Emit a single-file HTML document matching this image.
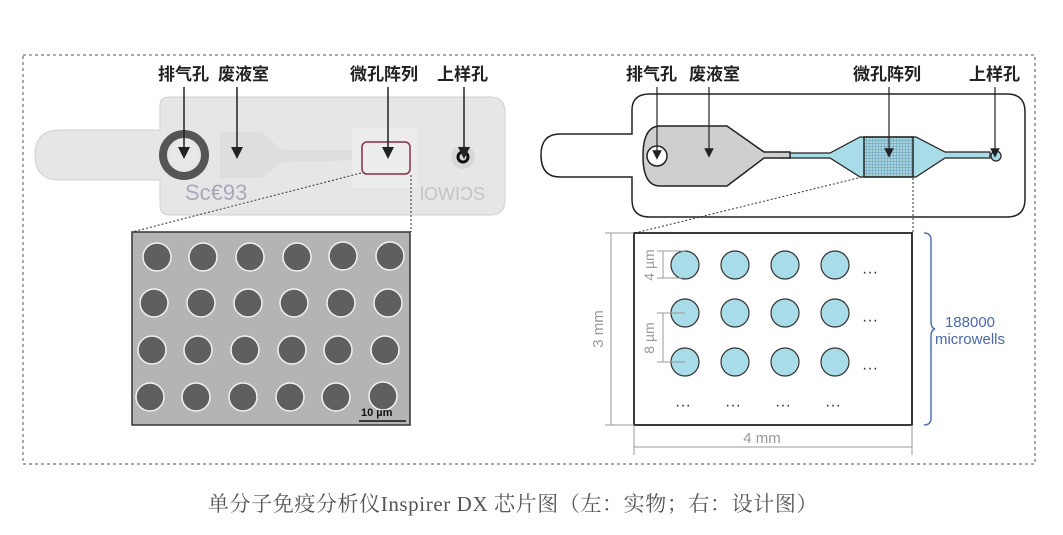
<!DOCTYPE html>
<html><head><meta charset="utf-8"><style>
html,body{margin:0;padding:0;background:#fff;width:1063px;height:535px;overflow:hidden}
svg{display:block}
.lb{font-family:"Liberation Sans","Noto Sans CJK SC",sans-serif;font-weight:bold;font-size:17px;fill:#222}
.cap{font-family:"Liberation Serif","Noto Serif CJK SC",serif;font-size:21px;fill:#555;letter-spacing:0.6px}
</style></head><body>
<svg width="1063" height="535" viewBox="0 0 1063 535">
<defs>
<marker id="ar" markerWidth="8" markerHeight="8" refX="4" refY="4" orient="auto"><path d="M0,0 L8,4 L0,8z" fill="#222"/></marker>
<pattern id="grid" width="3" height="3" patternUnits="userSpaceOnUse"><rect width="3" height="3" fill="#7fb5c6"/><rect width="2" height="2" fill="#a9d3df"/></pattern>
</defs>
<rect x="23" y="55" width="1012" height="409" fill="none" stroke="#aaa" stroke-width="2" stroke-dasharray="3,3"/>

<!-- LEFT photo chip -->
<path d="M60,130 H160 V105 Q160,97 170,97 H490 Q505,97 505,112 V200 Q505,215 490,215 H170 Q160,215 160,205 V180 H60 Q35,180 35,155 Q35,130 60,130Z" fill="#e6e6e6" stroke="#d0d0d0"/>
<path d="M220,132 H262 L282,150 H360 V146 H410 V160 H360 L282,162 L262,178 H220Z" fill="#dedede"/>
<rect x="352" y="128" width="65" height="60" fill="#ececec"/>
<circle cx="184" cy="155" r="21" fill="none" stroke="#555" stroke-width="8"/>
<circle cx="184" cy="155" r="14" fill="#e8e8e8"/>
<rect x="362" y="142" width="48" height="32" rx="5" fill="#ededed" stroke="#8a3040" stroke-width="1.5"/>
<circle cx="463" cy="157" r="12" fill="#d8d8d8"/>
<circle cx="463" cy="157" r="5" fill="none" stroke="#111" stroke-width="3"/>
<text x="185" y="200" font-family="Liberation Sans" font-size="22" fill="#8080a0" opacity="0.6">Sc€93</text>
<text x="420" y="200" font-family="Liberation Sans" font-size="18" fill="#c4c4c4">ƖOWIϽS</text>
<g class="lb"><text x="158" y="80">排气孔</text><text x="218" y="80">废液室</text><text x="350" y="80">微孔阵列</text><text x="437" y="80">上样孔</text></g>
<g stroke="#222" stroke-width="1.5" marker-end="url(#ar)">
<line x1="184" y1="87" x2="184" y2="153"/><line x1="237" y1="87" x2="237" y2="153"/><line x1="388" y1="87" x2="388" y2="153"/><line x1="464" y1="87" x2="464" y2="153"/></g>
<g stroke="#333" stroke-width="1" stroke-dasharray="2,2" fill="none"><line x1="361" y1="173" x2="132" y2="232"/><line x1="411" y1="175" x2="411" y2="232"/></g>
<rect x="132" y="232" width="278" height="193" fill="#b4b4b4" stroke="#333" stroke-width="1.5"/>
<g fill="#5f5f5f" stroke="#f2f2f2" stroke-width="1.5">
<circle cx="157" cy="257" r="14"/><circle cx="203" cy="257" r="14"/><circle cx="250" cy="257" r="14"/><circle cx="297" cy="257" r="14"/><circle cx="343" cy="256" r="14"/><circle cx="390" cy="256" r="14"/>
<circle cx="154" cy="303" r="14"/><circle cx="201" cy="303" r="14"/><circle cx="248" cy="303" r="14"/><circle cx="294" cy="303" r="14"/><circle cx="341" cy="303" r="14"/><circle cx="388" cy="303" r="14"/>
<circle cx="152" cy="350" r="14"/><circle cx="198" cy="350" r="14"/><circle cx="245" cy="350" r="14"/><circle cx="292" cy="350" r="14"/><circle cx="338" cy="350" r="14"/><circle cx="385" cy="350" r="14"/>
<circle cx="150" cy="397" r="14"/><circle cx="196" cy="397" r="14"/><circle cx="243" cy="397" r="14"/><circle cx="290" cy="397" r="14"/><circle cx="336" cy="397" r="14"/><circle cx="383" cy="396" r="14"/></g>
<text x="361" y="416" font-family="Liberation Sans" font-weight="bold" font-size="11" fill="#111">10 µm</text>
<line x1="359" y1="421" x2="406" y2="421" stroke="#111" stroke-width="1.5"/>

<!-- RIGHT schematic -->
<path d="M560,134 H632 V110 Q632,94 650,94 H1007 Q1025,94 1025,112 V199 Q1025,217 1007,217 H650 Q632,217 632,200 V177 H560 Q541,177 541,155 Q541,134 560,134Z" fill="#fff" stroke="#222" stroke-width="1.5"/>
<path d="M780,153 H830 L860,137 H916 L945,152 H990 V158 H945 L916,177 H860 L830,158 H780Z" fill="#a8dce8" stroke="#222" stroke-width="1.2"/>
<path d="M660,126 H727 L764,152 H790 V158 H764 L727,186 H660 Q643,186 643,156 Q643,126 660,126Z" fill="#cfcfcf" stroke="#222" stroke-width="1.5"/>
<rect x="864" y="137" width="49" height="40" fill="url(#grid)" stroke="#222" stroke-width="1.5"/>
<circle cx="657" cy="156" r="10" fill="#fff" stroke="#222" stroke-width="1.5"/>
<circle cx="996" cy="156" r="5" fill="#a8dce8" stroke="#222" stroke-width="1.2"/>
<g class="lb"><text x="626" y="80">排气孔</text><text x="689" y="80">废液室</text><text x="853" y="80">微孔阵列</text><text x="969" y="80">上样孔</text></g>
<g stroke="#222" stroke-width="1.2" marker-end="url(#ar)">
<line x1="657" y1="87" x2="657" y2="155"/><line x1="709" y1="87" x2="709" y2="153"/><line x1="889" y1="87" x2="889" y2="153"/><line x1="995" y1="87" x2="995" y2="153"/></g>
<g stroke="#333" stroke-width="1" stroke-dasharray="2,2" fill="none"><line x1="862" y1="177" x2="635" y2="233"/><line x1="913" y1="178" x2="913" y2="233"/></g>
<rect x="634" y="233" width="278" height="192" fill="#fff" stroke="#222" stroke-width="1.8"/>
<g fill="#a8dce8" stroke="#333" stroke-width="1.2">
<circle cx="685" cy="265" r="14"/><circle cx="735" cy="265" r="14"/><circle cx="785" cy="265" r="14"/><circle cx="835" cy="265" r="14"/>
<circle cx="685" cy="313" r="14"/><circle cx="735" cy="313" r="14"/><circle cx="785" cy="313" r="14"/><circle cx="835" cy="313" r="14"/>
<circle cx="685" cy="362" r="14"/><circle cx="735" cy="362" r="14"/><circle cx="785" cy="362" r="14"/><circle cx="835" cy="362" r="14"/></g>
<g font-family="Liberation Sans" font-size="16" fill="#333">
<text x="862" y="277">···</text><text x="862" y="325">···</text><text x="862" y="373">···</text>
<text x="675" y="410">···</text><text x="725" y="410">···</text><text x="775" y="410">···</text><text x="825" y="410">···</text></g>
<g stroke="#999" stroke-width="1" fill="none">
<line x1="611" y1="233" x2="611" y2="425"/><line x1="605" y1="233" x2="634" y2="233"/><line x1="605" y1="425" x2="634" y2="425"/>
<line x1="634" y1="425" x2="634" y2="455"/><line x1="912" y1="425" x2="912" y2="455"/><line x1="634" y1="447" x2="912" y2="447"/>
<line x1="663" y1="251" x2="663" y2="278"/><line x1="657" y1="251" x2="685" y2="251"/><line x1="657" y1="278" x2="685" y2="278"/>
<line x1="663" y1="313" x2="663" y2="362"/><line x1="657" y1="313" x2="685" y2="313"/><line x1="657" y1="362" x2="685" y2="362"/></g>
<g font-family="Liberation Sans" font-size="15" fill="#999">
<text x="762" y="443" text-anchor="middle">4 mm</text>
<text transform="translate(603,329) rotate(-90)" text-anchor="middle">3 mm</text>
<text transform="translate(654,265) rotate(-90)" text-anchor="middle" font-size="14">4 µm</text>
<text transform="translate(654,338) rotate(-90)" text-anchor="middle" font-size="14">8 µm</text></g>
<path d="M924,233 Q931,233 931,240 V322 Q931,328 935,329 Q931,330 931,336 V418 Q931,425 924,425" fill="none" stroke="#5070b0" stroke-width="1.5"/>
<g font-family="Liberation Sans" font-size="15" fill="#4a68a8" text-anchor="middle"><text x="970" y="327">188000</text><text x="970" y="344">microwells</text></g>

<text class="cap" x="513" y="511" text-anchor="middle">单分子免疫分析仪Inspirer DX 芯片图（左：实物；右：设计图）</text>
</svg>
</body></html>
